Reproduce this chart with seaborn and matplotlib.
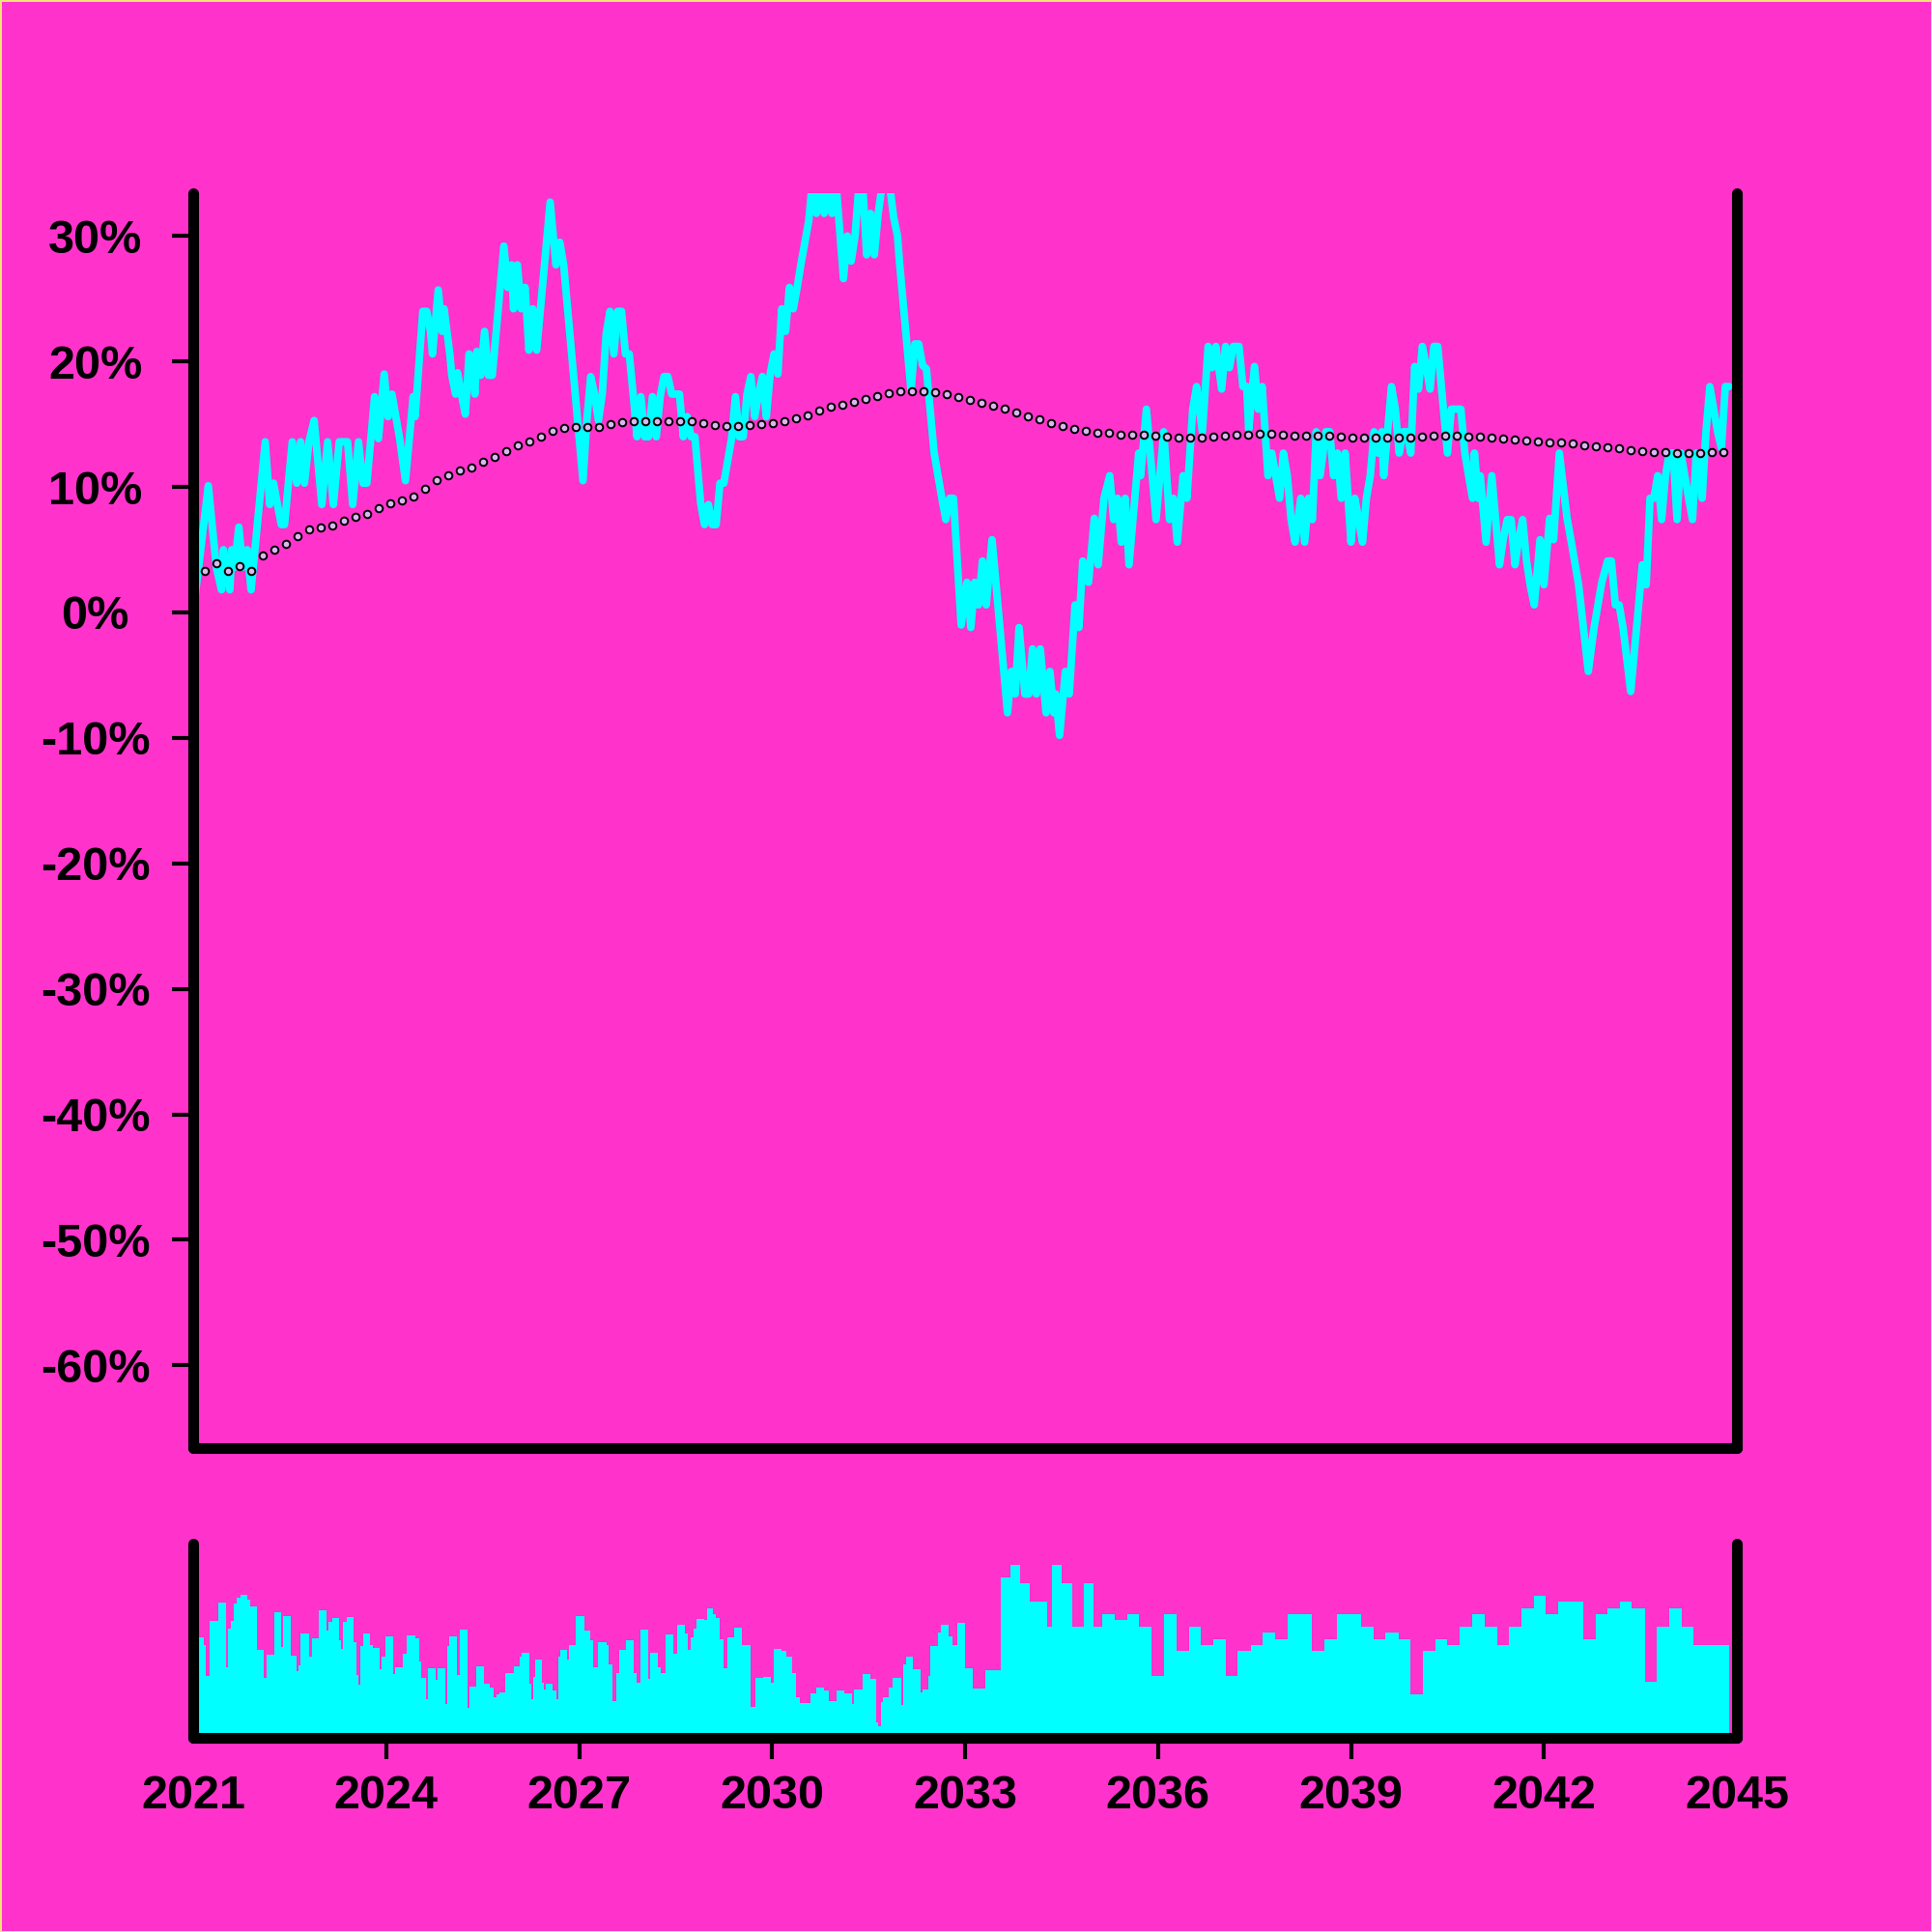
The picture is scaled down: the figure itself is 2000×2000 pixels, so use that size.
import numpy as np
import matplotlib
matplotlib.use("Agg")
import matplotlib.pyplot as plt
import seaborn as sns

# ---------------- data ----------------
line_t = [
    2021.00, 2021.235, 2021.36, 2021.44, 2021.47, 2021.51, 2021.57, 2021.60, 2021.64, 2021.71,
    2021.77, 2021.84, 2021.90, 2022.12, 2022.19, 2022.25, 2022.31, 2022.37, 2022.42, 2022.54,
    2022.61, 2022.67, 2022.73, 2022.80, 2022.88, 2023.00, 2023.09, 2023.18, 2023.27, 2023.40,
    2023.48, 2023.57, 2023.64, 2023.70, 2023.82, 2023.88, 2023.97, 2024.03, 2024.09, 2024.15,
    2024.21, 2024.30, 2024.42, 2024.45, 2024.57, 2024.63, 2024.69, 2024.72, 2024.81, 2024.87,
    2024.90, 2024.99, 2025.02, 2025.08, 2025.11, 2025.17, 2025.23, 2025.29, 2025.35, 2025.38,
    2025.41, 2025.47, 2025.53, 2025.59, 2025.65, 2025.83, 2025.89, 2025.95, 2025.98, 2026.04,
    2026.10, 2026.16, 2026.22, 2026.28, 2026.34, 2026.55, 2026.64, 2026.70, 2026.76, 2026.94,
    2027.06, 2027.12, 2027.18, 2027.24, 2027.30, 2027.36, 2027.42, 2027.48, 2027.54, 2027.60,
    2027.66, 2027.72, 2027.78, 2027.84, 2027.90, 2027.96, 2028.02, 2028.08, 2028.14, 2028.20,
    2028.26, 2028.32, 2028.38, 2028.44, 2028.56, 2028.62, 2028.68, 2028.74, 2028.80, 2028.89,
    2028.95, 2029.01, 2029.07, 2029.13, 2029.19, 2029.25, 2029.31, 2029.37, 2029.43, 2029.49,
    2029.55, 2029.61, 2029.67, 2029.73, 2029.79, 2029.85, 2029.91, 2029.97, 2030.03, 2030.09,
    2030.15, 2030.21, 2030.27, 2030.33, 2030.39, 2030.45, 2030.51, 2030.57, 2030.63, 2030.69,
    2030.75, 2030.81, 2030.87, 2030.93, 2030.99, 2031.11, 2031.17, 2031.23, 2031.29, 2031.35,
    2031.41, 2031.47, 2031.53, 2031.59, 2031.65, 2031.71, 2031.83, 2031.89, 2031.95, 2031.98,
    2032.16, 2032.22, 2032.28, 2032.34, 2032.40, 2032.52, 2032.58, 2032.64, 2032.70, 2032.76,
    2032.82, 2032.94, 2033.03, 2033.09, 2033.15, 2033.21, 2033.27, 2033.33, 2033.42, 2033.66,
    2033.72, 2033.78, 2033.84, 2033.93, 2033.99, 2034.05, 2034.11, 2034.17, 2034.26, 2034.32,
    2034.38, 2034.41, 2034.47, 2034.56, 2034.62, 2034.71, 2034.77, 2034.83, 2034.92, 2035.01,
    2035.07, 2035.16, 2035.25, 2035.31, 2035.37, 2035.43, 2035.49, 2035.55, 2035.70, 2035.73,
    2035.82, 2035.97, 2036.09, 2036.18, 2036.24, 2036.30, 2036.39, 2036.45, 2036.54, 2036.60,
    2036.69, 2036.78, 2036.84, 2036.90, 2036.99, 2037.05, 2037.11, 2037.17, 2037.26, 2037.32,
    2037.38, 2037.41, 2037.50, 2037.56, 2037.62, 2037.71, 2037.77, 2037.83, 2037.89, 2037.95,
    2038.01, 2038.07, 2038.13, 2038.22, 2038.28, 2038.34, 2038.40, 2038.46, 2038.52, 2038.61,
    2038.67, 2038.73, 2038.79, 2038.85, 2038.91, 2039.00, 2039.06, 2039.12, 2039.18, 2039.24,
    2039.30, 2039.36, 2039.42, 2039.48, 2039.51, 2039.63, 2039.69, 2039.75, 2039.81, 2039.87,
    2039.93, 2039.99, 2040.05, 2040.11, 2040.17, 2040.23, 2040.29, 2040.35, 2040.41, 2040.50,
    2040.56, 2040.65, 2040.71, 2040.77, 2040.83, 2040.89, 2040.92, 2040.98, 2041.01, 2041.10,
    2041.19, 2041.25, 2041.31, 2041.37, 2041.43, 2041.49, 2041.55, 2041.61, 2041.67, 2041.73,
    2041.79, 2041.85, 2041.94, 2042.00, 2042.09, 2042.15, 2042.24, 2042.36, 2042.42, 2042.48,
    2042.54, 2042.69, 2042.78, 2042.84, 2042.90, 2042.99, 2043.05, 2043.11, 2043.17, 2043.23,
    2043.35, 2043.53, 2043.59, 2043.65, 2043.71, 2043.77, 2043.83, 2043.89, 2043.95, 2044.01,
    2044.07, 2044.13, 2044.19, 2044.25, 2044.31, 2044.37, 2044.43, 2044.46, 2044.52, 2044.58,
    2044.64, 2044.70, 2044.76, 2044.82, 2044.88,
]
line_pct = [
    0.0, 10.1, 3.6, 1.8, 5.0, 3.6, 1.8, 5.0, 3.6, 6.8,
    3.6, 5.0, 1.8, 13.6, 8.6, 10.3, 8.6, 7.0, 7.0, 13.6,
    10.3, 13.6, 10.3, 13.6, 15.3, 8.6, 13.6, 8.6, 13.6, 13.6,
    8.6, 13.6, 10.3, 10.3, 17.2, 13.85, 19.0, 15.6, 17.4, 15.6,
    13.85, 10.5, 17.2, 15.6, 24.0, 24.0, 22.4, 20.6, 25.7, 22.4,
    24.2, 20.6, 18.9, 17.4, 19.1, 17.4, 15.8, 20.6, 18.9, 17.4,
    20.8, 18.9, 22.4, 18.9, 18.9, 29.2, 25.9, 27.7, 24.2, 27.7,
    24.2, 25.9, 20.9, 24.2, 20.9, 32.7, 27.7, 29.5, 27.7, 17.4,
    10.5, 15.3, 18.8, 17.4, 15.3, 17.4, 22.2, 24.0, 20.6, 24.0,
    24.0, 20.6, 20.6, 17.4, 14.0, 17.2, 14.0, 14.0, 17.2, 14.0,
    17.2, 18.8, 18.8, 17.4, 17.4, 14.0, 15.6, 14.0, 14.0, 8.7,
    7.0, 8.6, 7.0, 7.0, 10.3, 10.3, 12.1, 13.85, 17.2, 14.0,
    14.0, 17.4, 18.8, 15.6, 17.4, 18.8, 15.6, 19.0, 20.6, 19.0,
    24.2, 22.4, 25.9, 24.2, 25.9, 27.8, 29.5, 31.2, 34.5, 31.8,
    34.5, 31.8, 34.5, 31.8, 34.5, 26.6, 30.0, 28.0, 30.0, 34.0,
    34.0, 28.5, 31.8, 28.5, 31.8, 34.0, 34.0, 31.5, 30.0, 28.0,
    17.7, 21.4, 21.4, 19.7, 19.4, 12.7, 10.9, 9.1, 7.4, 9.1,
    9.1, -1.0, 2.4, -1.2, 2.4, 0.6, 4.1, 0.6, 5.8, -8.0,
    -4.7, -6.5, -1.2, -6.5, -6.5, -2.9, -6.5, -2.9, -8.0, -4.7,
    -8.0, -6.5, -9.8, -4.7, -6.5, 0.6, -1.2, 4.1, 2.4, 7.5,
    3.8, 9.1, 10.9, 7.4, 9.1, 5.6, 9.1, 3.8, 12.7, 10.9,
    16.2, 7.4, 14.4, 7.4, 9.1, 5.6, 10.9, 9.1, 16.2, 18.0,
    14.4, 21.2, 19.5, 21.2, 17.8, 21.2, 19.5, 21.2, 21.2, 18.0,
    18.0, 14.6, 19.6, 16.2, 18.0, 10.9, 12.7, 10.9, 9.1, 12.7,
    10.9, 7.4, 5.6, 9.1, 5.6, 9.1, 7.4, 14.4, 10.9, 14.4,
    14.4, 10.9, 12.7, 9.1, 12.7, 5.6, 9.1, 7.4, 5.6, 9.1,
    10.9, 14.4, 12.7, 14.4, 10.9, 18.0, 16.2, 12.7, 14.4, 14.4,
    12.7, 19.6, 17.8, 21.2, 19.6, 17.8, 21.2, 21.2, 17.8, 12.7,
    16.2, 16.2, 16.2, 12.7, 10.9, 9.1, 12.7, 9.1, 10.9, 5.6,
    10.9, 7.4, 3.8, 5.9, 7.4, 7.4, 3.8, 5.9, 7.4, 4.1,
    2.1, 0.6, 5.8, 2.2, 7.5, 5.8, 12.7, 7.5, 5.8, 4.0,
    2.2, -4.7, -1.2, 0.6, 2.4, 4.1, 4.1, 0.6, 0.6, -1.2,
    -6.3, 3.8, 2.2, 9.1, 9.1, 10.9, 7.4, 10.9, 12.7, 12.7,
    7.4, 12.7, 10.9, 9.1, 7.4, 12.7, 10.9, 9.1, 14.4, 18.0,
    16.2, 14.4, 13.1, 18.0, 18.0,
]

# moving-average markers (132 points, evenly spaced in time)
ma_first, ma_last = 2021.175, 2044.79
ma_pct = [
    3.33, 3.92, 3.33, 3.69, 3.33, 4.57, 5.04, 5.45, 6.10, 6.63,
    6.78, 6.93, 7.31, 7.60, 7.87, 8.31, 8.70, 8.90, 9.22, 9.84,
    10.58, 10.93, 11.29, 11.58, 12.02, 12.38, 12.85, 13.32, 13.61, 14.00,
    14.47, 14.70, 14.76,
    14.76, 14.79, 15.00, 15.18, 15.21, 15.21, 15.21, 15.24, 15.24, 15.24,
    15.06, 14.94, 14.88, 14.88, 14.97, 15.03, 15.12, 15.27, 15.47, 15.74,
    16.06, 16.38, 16.53, 16.77, 17.00, 17.21, 17.47, 17.62, 17.65, 17.65,
    17.53, 17.39, 17.15,
    16.91, 16.71, 16.50, 16.21, 15.91, 15.62, 15.38, 15.09, 14.82, 14.62,
    14.50, 14.35, 14.29, 14.20, 14.14, 14.14, 14.06, 14.03, 13.97, 13.97,
    13.97, 14.03, 14.12, 14.17, 14.20, 14.23, 14.23, 14.17, 14.12, 14.06,
    14.06, 14.06, 14.03, 13.97,
    13.91, 13.91, 13.91, 13.91, 13.94, 14.00, 14.06, 14.09, 14.06, 14.03,
    14.00, 13.97, 13.88, 13.79, 13.70, 13.61, 13.58, 13.56, 13.47, 13.35,
    13.23, 13.14, 13.05, 12.94, 12.85, 12.79, 12.76, 12.73, 12.73, 12.73,
    12.76, 12.76,
]

# volume: start of each period (years after 2021) and its volume (arbitrary units)
vol_start = [
    0.000, 0.169, 0.199, 0.261, 0.383, 0.506, 0.536, 0.582, 0.628, 0.674,
    0.736, 0.843, 0.889, 0.996, 1.103, 1.134, 1.257, 1.364, 1.395, 1.517,
    1.609, 1.640, 1.670, 1.808, 1.854, 1.946, 2.069, 2.100, 2.161, 2.268,
    2.299, 2.330, 2.391, 2.498, 2.544, 2.575, 2.605, 2.636, 2.743, 2.789,
    2.897, 2.927, 2.989, 3.111, 3.142, 3.264, 3.326, 3.448, 3.510, 3.540,
    3.617, 3.648, 3.770, 3.801, 3.923, 3.954, 3.985, 4.107, 4.138, 4.261,
    4.291, 4.398, 4.521, 4.613, 4.674, 4.720, 4.766, 4.858, 4.981, 5.073,
    5.103, 5.226, 5.257, 5.287, 5.318, 5.425, 5.456, 5.487, 5.594, 5.640,
    5.670, 5.701, 5.808, 5.839, 5.946, 6.084, 6.176, 6.222, 6.299, 6.421,
    6.452, 6.513, 6.575, 6.621, 6.728, 6.851, 6.897, 6.958, 7.080, 7.111,
    7.218, 7.264, 7.341, 7.464, 7.525, 7.648, 7.693, 7.739, 7.785, 7.831,
    7.939, 7.985, 8.077, 8.123, 8.184, 8.245, 8.307, 8.414, 8.536, 8.659,
    8.736, 8.858, 8.981, 9.027, 9.149, 9.226, 9.318, 9.379, 9.425, 9.487,
    9.594, 9.686, 9.808, 9.885, 10.008, 10.130, 10.238, 10.268, 10.406, 10.529,
    10.621, 10.651, 10.697, 10.728, 10.820, 10.881, 11.004, 11.034, 11.080, 11.188,
    11.310, 11.341, 11.433, 11.464, 11.586, 11.632, 11.739, 11.801, 11.877, 12.000,
    12.125, 12.32, 12.55, 12.70, 12.85, 13.01, 13.27, 13.35, 13.50, 13.66,
    13.85, 14.00, 14.14, 14.33, 14.52, 14.71, 14.90, 15.09, 15.29, 15.48,
    15.67, 15.86, 16.05, 16.24, 16.44, 16.63, 16.82, 17.01, 17.20, 17.39,
    17.59, 17.78, 17.97, 18.16, 18.35, 18.54, 18.74, 18.93, 19.12, 19.31,
    19.50, 19.69, 19.88, 20.08, 20.27, 20.46, 20.65, 20.84, 21.03, 21.22,
    21.42, 21.61, 21.80, 21.99, 22.18, 22.37, 22.57, 22.76, 22.95, 23.14,
    23.33, 23.52, 23.71,
]
vol_end = 23.88
vol_value = [
    296, 274, 177, 349, 404, 204, 324, 347, 402, 420,
    428, 414, 394, 257, 170, 242, 374, 267, 362, 240,
    192, 209, 310, 237, 295, 381, 319, 344, 356, 289,
    260, 344, 360, 282, 181, 151, 270, 309, 274, 264,
    197, 237, 299, 182, 204, 247, 302, 294, 222, 170,
    104, 200, 166, 200, 90, 270, 300, 180, 322, 78,
    144, 206, 152, 140, 112, 120, 127, 186, 208, 237,
    248, 152, 104, 174, 228, 156, 135, 152, 132, 104,
    236, 257, 228, 272, 362, 318, 289, 204, 282, 274,
    214, 100, 187, 258, 287, 185, 157, 322, 168, 249,
    204, 185, 305, 246, 336, 309, 257, 297, 324, 354,
    350, 386, 368, 356, 292, 202, 298, 326, 272, 80,
    172, 174, 156, 262, 256, 237, 187, 112, 94, 92,
    122, 140, 132, 100, 132, 122, 90, 134, 184, 168,
    32, 20, 97, 112, 142, 172, 87, 214, 236, 199,
    125, 134, 176, 270, 312, 337, 300, 274, 342, 202,
    139, 196, 483, 522, 465, 407, 331, 522, 465, 331,
    465, 331, 369, 350, 369, 331, 177, 369, 254, 331,
    273, 292, 177, 254, 273, 311, 292, 369, 369, 254,
    292, 369, 369, 331, 292, 311, 292, 120, 254, 292,
    273, 331, 369, 331, 273, 331, 388, 426, 369, 407,
    407, 292, 369, 388, 407, 388, 158, 331, 388, 331,
    273, 273, 273,
]

year_ticks = list(range(2021, 2046, 3))
pct_ticks = [30, 20, 10, 0, -10, -20, -30, -40, -50, -60]

# ---------------- style ----------------
BG = "#FF33CC"
CYAN = "#00FFFF"
MA_FILL = "#D9B8F0"
EDGE = "#F2E27A"

sns.set_style("ticks")
plt.rcParams['font.family'] = ['Liberation Sans', 'DejaVu Sans']
plt.rcParams['font.weight'] = 'bold'

fig = plt.figure(figsize=(20, 20), dpi=100, facecolor=BG)
ax = fig.add_axes([0.1, 0.2505, 0.799, 0.6495])
axv = fig.add_axes([0.1, 0.1005, 0.799, 0.1005])

for a in (ax, axv):
    a.set_facecolor(BG)
    a.spines['top'].set_visible(False)
    for s in ('left', 'right', 'bottom'):
        a.spines[s].set_linewidth(8)
        a.spines[s].set_color('black')
        a.spines[s].set_capstyle('round')
        a.spines[s].set_zorder(5)
    a.set_xlim(2021, 2045)

# main price line
lt = np.array(line_t)
lv = np.array(line_pct) / 100.0
sns.lineplot(x=lt, y=lv, ax=ax, color=CYAN, linewidth=5.6, sort=False,
             estimator=None, legend=False, zorder=2)
for ln in ax.lines:
    ln.set_solid_joinstyle('round')
    ln.set_solid_capstyle('round')

# moving-average markers
ma_t = np.linspace(ma_first, ma_last, len(ma_pct))
sns.scatterplot(x=ma_t, y=np.array(ma_pct) / 100.0, ax=ax, s=30, color=MA_FILL,
                edgecolor='black', linewidth=1.4, zorder=3, legend=False)

ax.set_ylim(-0.6659, 0.3341)
ax.set_yticks([p / 100.0 for p in pct_ticks])
ax.set_yticklabels([f"{p}%" for p in pct_ticks])
ax.set_xticks([])
ax.tick_params(axis='y', length=16, width=3, pad=57, labelsize=35,
               color='black', labelcolor='black')
for lab in ax.get_yticklabels():
    lab.set_horizontalalignment('center')
ax.set_xlabel('')
ax.set_ylabel('')

# volume panel
vs = np.array(vol_start)
ve = np.append(vs[1:], vol_end)
axv.bar(2021 + vs, vol_value, width=ve - vs, align='edge', color=CYAN,
        linewidth=0, zorder=2)
axv.set_ylim(-15, 588)
axv.set_yticks([])
axv.set_xticks(year_ticks)
axv.set_xticklabels([str(y) for y in year_ticks])
axv.tick_params(axis='x', length=16, width=3, pad=11, labelsize=35,
                color='black', labelcolor='black')
xt = axv.xaxis.get_major_ticks()
xt[0].tick1line.set_visible(False)
xt[-1].tick1line.set_visible(False)

for lab in ax.get_yticklabels() + axv.get_xticklabels():
    lab.set_fontweight('bold')

fig.patch.set_edgecolor(EDGE)
fig.patch.set_linewidth(2)
fig.savefig('out.png', dpi=100, facecolor=BG, edgecolor=EDGE)
